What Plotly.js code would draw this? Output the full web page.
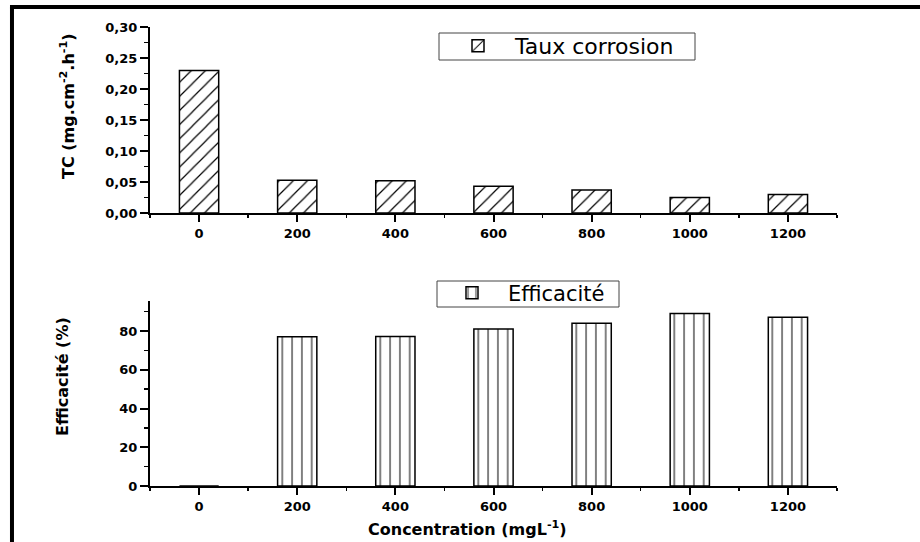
<!DOCTYPE html>
<html>
<head>
<meta charset="utf-8">
<script src="https://cdn.plot.ly/plotly-3.0.1.min.js"></script>
<style>html,body{margin:0;padding:0;background:#fff;}#chart{width:920px;height:542px;}</style>
</head>
<body>
<div id="chart"></div>
<script>
// Data
const concentrations = [0, 200, 400, 600, 800, 1000, 1200];
const tickLabels = ['0', '200', '400', '600', '800', '1000', '1200'];
const tauxCorrosion = [0.230, 0.053, 0.052, 0.043, 0.037, 0.025, 0.030];
const efficacite = [0, 77.1, 77.2, 81.0, 84.0, 89.1, 87.1];

const FONT = 'DejaVu Sans';
const tickFont = {family: FONT, size: 13, color: '#000', weight: 'bold'};
const titleFont = {family: FONT, size: 16, color: '#000', weight: 'bold'};

const traces = [
  {
    type: 'bar', name: 'Taux corrosion', x: concentrations, y: tauxCorrosion,
    width: 80, xaxis: 'x', yaxis: 'y', legend: 'legend', showlegend: true,
    marker: {color: '#fff', line: {color: '#000', width: 1.5},
      pattern: {shape: '/', fgcolor: '#000', bgcolor: '#fff', size: 10, solidity: 0.12}},
    hoverinfo: 'skip'
  },
  {
    type: 'bar', name: 'Efficacité', x: concentrations, y: efficacite,
    width: 80, xaxis: 'x2', yaxis: 'y2', legend: 'legend2', showlegend: true,
    marker: {color: '#fff', line: {color: '#000', width: 1.5},
      pattern: {shape: '|', fgcolor: '#000', bgcolor: '#fff', size: 9.8, solidity: 0.1}},
    hoverinfo: 'skip'
  }
];

function xAxis(anchor) {
  return {
    anchor: anchor, domain: [0, 1], range: [-100, 1300],
    tickmode: 'array', tickvals: concentrations, ticktext: tickLabels,
    ticks: 'outside', ticklen: 7, tickwidth: 2, tickcolor: '#000',
    minor: {tickmode: 'linear', tick0: 100, dtick: 200, ticks: 'outside', ticklen: 3, tickwidth: 1.5, tickcolor: '#000'},
    showline: true, linecolor: '#000', linewidth: 2,
    showgrid: false, zeroline: false, tickfont: tickFont, automargin: false
  };
}

function legendBox(x0px, x1px, y0px, y1px) {
  return {type: 'rect', xref: 'paper', yref: 'paper',
    x0: (x0px - 150) / 687, x1: (x1px - 150) / 687,
    y0: (486 - y1px) / 459, y1: (486 - y0px) / 459,
    line: {color: '#444', width: 1}, fillcolor: 'rgba(0,0,0,0)'};
}

const layout = {
  width: 920, height: 542,
  margin: {l: 150, r: 83, t: 27, b: 56},
  paper_bgcolor: '#fff', plot_bgcolor: '#fff',
  separators: ', ',
  hovermode: false,
  xaxis: xAxis('y'),
  xaxis2: xAxis('y2'),
  yaxis: {
    anchor: 'x', domain: [0.5948, 1], range: [0, 0.30],
    tickmode: 'linear', tick0: 0, dtick: 0.05, tickformat: '.2f',
    ticks: 'outside', ticklen: 8, tickwidth: 2, tickcolor: '#000',
    minor: {tickmode: 'linear', tick0: 0.025, dtick: 0.05, ticks: 'outside', ticklen: 4, tickwidth: 1.5, tickcolor: '#000'},
    showline: true, linecolor: '#000', linewidth: 2, showgrid: false, zeroline: false,
    tickfont: tickFont, automargin: false
  },
  yaxis2: {
    anchor: 'x2', domain: [0, 0.403], range: [0, 95.5],
    tickmode: 'linear', tick0: 0, dtick: 20,
    ticks: 'outside', ticklen: 8, tickwidth: 2, tickcolor: '#000',
    minor: {tickmode: 'linear', tick0: 10, dtick: 20, ticks: 'outside', ticklen: 4, tickwidth: 1.5, tickcolor: '#000'},
    showline: true, linecolor: '#000', linewidth: 2, showgrid: false, zeroline: false,
    tickfont: tickFont, automargin: false
  },
  legend: {
    x: (441 - 150) / 687, y: (486 - 46) / 459, xanchor: 'left', yanchor: 'middle',
    bgcolor: 'rgba(0,0,0,0)', borderwidth: 0,
    font: {family: FONT, size: 22, color: '#000'}, itemwidth: 64
  },
  legend2: {
    x: (436 - 150) / 687, y: (486 - 293) / 459, xanchor: 'left', yanchor: 'middle',
    bgcolor: 'rgba(0,0,0,0)', borderwidth: 0,
    font: {family: FONT, size: 21, color: '#000'}, itemwidth: 62
  },
  annotations: [
    {text: 'TC (mg.cm<sup>-2</sup>.h<sup>-1</sup>)', textangle: -90, showarrow: false,
     xref: 'paper', yref: 'paper', x: (68 - 150) / 687, y: (486 - 106) / 459,
     xanchor: 'center', yanchor: 'middle', font: titleFont},
    {text: 'Efficacité (%)', textangle: -90, showarrow: false,
     xref: 'paper', yref: 'paper', x: (62 - 150) / 687, y: (486 - 377) / 459,
     xanchor: 'center', yanchor: 'middle', font: titleFont},
    {text: 'Concentration (mgL<sup>-1</sup>)', showarrow: false,
     xref: 'paper', yref: 'paper', x: (467 - 150) / 687, y: (486 - 528) / 459,
     xanchor: 'center', yanchor: 'middle', font: titleFont}
  ],
  shapes: [
    legendBox(439, 695, 33, 60),
    legendBox(437, 619, 281, 307),
    {type: 'line', xref: 'paper', yref: 'paper', x0: -0.2009, x1: -0.2009, y0: -0.13, y1: 1.0436, line: {color: '#000', width: 4}},
    {type: 'line', xref: 'paper', yref: 'paper', x0: -0.2038, x1: 1.13, y0: 1.0436, y1: 1.0436, line: {color: '#000', width: 4}}
  ]
};

Plotly.newPlot('chart', traces, layout, {displayModeBar: false, staticPlot: true});
</script>
</body>
</html>
